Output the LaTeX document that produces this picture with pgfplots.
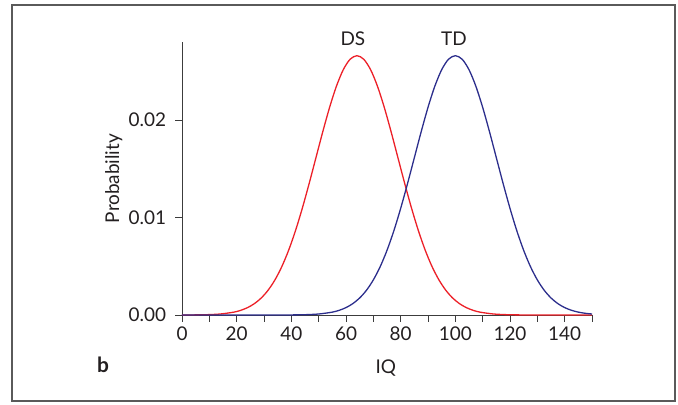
\documentclass[border=0pt]{standalone}
\usepackage{fontspec}
\setmainfont{Lato}
\usepackage{pgfplots}
\pgfplotsset{compat=1.18}

\definecolor{dsred}{RGB}{236,32,40}
\definecolor{tdblue}{RGB}{44,46,140}
\definecolor{axgray}{RGB}{60,60,60}
\definecolor{framegray}{RGB}{90,90,90}
\definecolor{txt}{RGB}{35,31,32}

\begin{document}
\begin{tikzpicture}[x=1bp,y=1bp]
\useasboundingbox (-182,-89) rectangle (496,315);
\draw[framegray, line width=1.4bp] (-170,-86) rectangle (493,310);
\begin{axis}[
    at={(0,0)}, anchor=origin,
    scale only axis,
    width=410bp, height=273bp,
    xmin=0, xmax=150,
    ymin=0, ymax=0.028,
    axis lines*=left,
    axis line style={axgray, line width=0.9bp},
    every tick/.style={axgray, line width=0.9bp},
    tick align=outside,
    major tick length=6.5bp,
    minor tick length=6.5bp,
    xtick={0,20,...,140},
    minor xtick={10,30,...,150},
    ytick={0,0.01,0.02},
    scaled y ticks=false,
    yticklabel style={/pgf/number format/.cd, fixed, fixed zerofill, precision=2, assume math mode=true, /tikz/.cd, xshift=-6bp},
    xticklabel style={/pgf/number format/assume math mode=true, yshift=-2bp},
    tick label style={font=\fontsize{19}{22}\selectfont, text=txt},
    label style={font=\fontsize{19}{22}\selectfont, text=txt},
    xlabel={IQ},
    ylabel={Probability},
    xlabel style={at={(axis description cs:0.497,0)}, anchor=base, yshift=-58bp},
    ylabel style={at={(axis description cs:0,0.5)}, anchor=south, yshift=56bp},
    clip=false,
]
% DS: mean 64, sd 15
\addplot[dsred, line width=1.3bp, smooth] coordinates {
(0,0.0000030) (4,0.000009) (9,0.000032) (14,0.000103) (19,0.000295)
(21.5,0.000481) (24,0.000760) (26.5,0.001169) (29,0.001748) (31.5,0.002543)
(34,0.003599) (36.5,0.004954) (39,0.006632) (41.5,0.008634) (44,0.010934)
(46.5,0.013467) (49,0.016131) (51.5,0.018794) (54,0.021297) (56.5,0.023471)
(59,0.025159) (61.5,0.026229) (64,0.026596) (66.5,0.026229) (69,0.025159)
(71.5,0.023471) (74,0.021297) (76.5,0.018794) (79,0.016131) (81.5,0.013467)
(84,0.010934) (86.5,0.008634) (89,0.006632) (91.5,0.004954) (94,0.003599)
(96.5,0.002543) (99,0.001748) (101.5,0.001169) (104,0.000760) (106.5,0.000481)
(109,0.000295) (114,0.000103) (119,0.000032) (124,0.000009) (129,0.000002)
(150,0)
};
% TD: mean 100, sd 15
\addplot[tdblue, line width=1.3bp, smooth] coordinates {
(0,0) (35,0.000002) (40,0.000009) (45,0.000032) (50,0.000103) (55,0.000295)
(57.5,0.000481) (60,0.000760) (62.5,0.001169) (65,0.001748) (67.5,0.002543)
(70,0.003599) (72.5,0.004954) (75,0.006632) (77.5,0.008634) (80,0.010934)
(82.5,0.013467) (85,0.016131) (87.5,0.018794) (90,0.021297) (92.5,0.023471)
(95,0.025159) (97.5,0.026229) (100,0.026596) (102.5,0.026229) (105,0.025159)
(107.5,0.023471) (110,0.021297) (112.5,0.018794) (115,0.016131) (117.5,0.013467)
(120,0.010934) (122.5,0.008634) (125,0.006632) (127.5,0.004954) (130,0.003599)
(132.5,0.002543) (135,0.001748) (137.5,0.001169) (140,0.000760) (142.5,0.000481)
(145,0.000295) (147.5,0.000177) (150,0.000103)
};
\node[font=\fontsize{19}{22}\selectfont, text=txt, anchor=base] at (axis cs:62.5,0.0276) {DS};
\node[font=\fontsize{19}{22}\selectfont, text=txt, anchor=base] at (axis cs:99.5,0.0276) {TD};
\end{axis}
\node[font=\bfseries\fontsize{21}{22}\selectfont, text=txt, anchor=base] at (-79,-57) {b};
\end{tikzpicture}
\end{document}
